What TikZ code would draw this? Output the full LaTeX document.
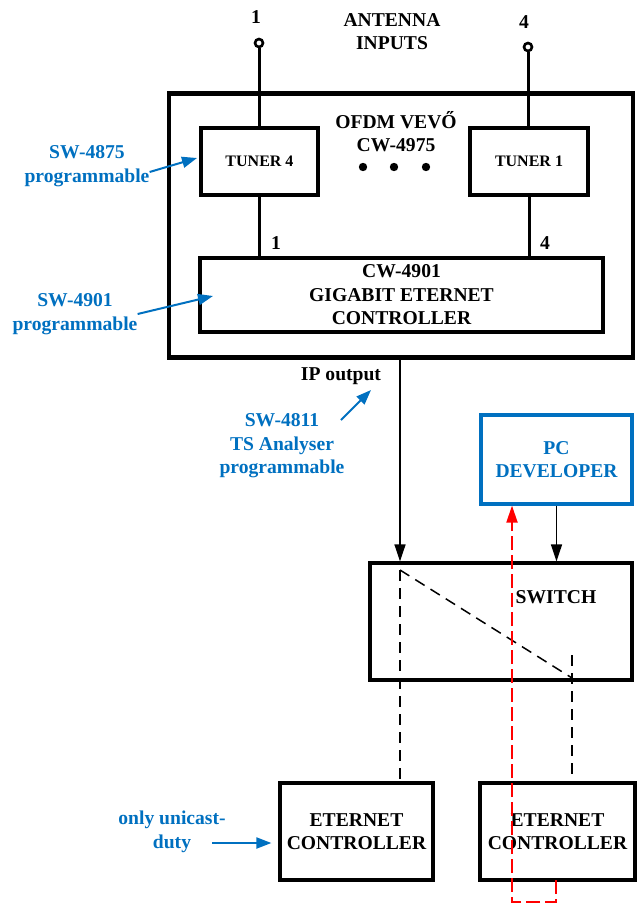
\documentclass[tikz,border=0pt]{standalone}
\usepackage{fontspec}
\setmainfont{Liberation Serif}
\usetikzlibrary{arrows.meta}

\definecolor{swblue}{RGB}{0,112,192}
\newcommand{\bigbf}{\bfseries\fontsize{19.6}{23.5}\selectfont}
\newcommand{\smallbf}{\bfseries\fontsize{16}{19}\selectfont}

\begin{document}
\begin{tikzpicture}[x=1pt, y=-1pt,
    box/.style={draw, line width=3.2pt, inner sep=0pt, align=center, font=\bigbf},
    lbl/.style={align=center, font=\bigbf, inner sep=0pt},
    note/.style={lbl, text=swblue},
    notearrow/.style={-{Triangle[length=15pt,width=11pt]}, line width=2pt, draw=swblue},
    sigarrow/.style={-{Triangle[length=17pt,width=11pt]}, line width=1.5pt},
    dashline/.style={line width=1.5pt, dash pattern=on 11pt off 7pt},
    redline/.style={-{Triangle[length=17pt,width=11pt]}, line width=2pt, draw=red, dash pattern=on 14pt off 5pt}]

    \useasboundingbox (0,0) rectangle (639,905);

    % Receiver
    \node (rx) [box, line width=4.5pt, minimum width=464, minimum height=264] at (401,225.5) {};
    \node (rxlbl) [lbl] at (396,131.5) {OFDM VEVŐ\\CW-4975};
    \foreach \xpos in {363, 394, 426}
    {
      \fill (\xpos,167) circle (4.2pt);
    };
    \node (tuner4) [box, font=\smallbf, minimum width=117, minimum height=67] at (259.5,161.5) {TUNER 4};
    \node (tuner1) [box, font=\smallbf, minimum width=118, minimum height=67] at (529,161.5) {TUNER 1};
    \node (ctrl) [box, minimum width=403, minimum height=74] at (401.5,295) {CW-4901\\GIGABIT ETERNET\\CONTROLLER};
    \draw [line width=3pt] (tuner4.south) -- (tuner4.south |- ctrl.north);
    \draw [line width=3pt] (tuner1.south) -- (tuner1.south |- ctrl.north);
    \node (in1) [lbl] at (276,243) {1};
    \node (in4) [lbl] at (545,243) {4};

    % Antenna inputs
    \node (antlbl) [lbl] at (392,31.5) {ANTENNA\\INPUTS};
    \node (ant1) [circle, draw, line width=2.6pt, minimum size=8, inner sep=0pt] at (259,43) {};
    \node (ant4) [circle, draw, line width=2.6pt, minimum size=8, inner sep=0pt] at (528,47) {};
    \node (ant1lbl) [lbl] at (256,17) {1};
    \node (ant4lbl) [lbl] at (524,22) {4};
    \draw [line width=3pt] (ant1) -- (ant1 |- tuner4.north);
    \draw [line width=3pt] (ant4) -- (ant4 |- tuner1.north);

    % PC and switch
    \node (pc) [box, draw=swblue, text=swblue, minimum width=151, minimum height=89] at (556.5,459.5) {PC\\DEVELOPER};
    \node (switch) [box, minimum width=262, minimum height=117] at (501,621.5) {};
    \node (swlbl) [lbl] at (556,597) {SWITCH};

    % Ethernet controllers
    \node (eth1) [box, minimum width=153, minimum height=97] at (356.5,831.5) {ETERNET\\CONTROLLER};
    \node (eth2) [box, minimum width=155, minimum height=97] at (557.5,831.5) {ETERNET\\CONTROLLER};

    % IP output
    \coordinate (ipout) at (400,358);
    \node (iplbl) [lbl] at (341,376) {IP output};
    \draw [sigarrow] (ipout) -- (ipout |- switch.north);
    \draw [sigarrow] (pc.south) -- (pc.south |- switch.north);

    % Paths through the switch
    \coordinate (swin) at (400,570);
    \coordinate (swout) at (572,678);
    \coordinate (swtap) at (572,655);
    \draw [dashline] (swin) -- (swin |- eth1.north);
    \draw [dashline] (swin) -- (swout);
    \draw [dashline] (swtap) -- (swtap |- eth2.north);

    % Return path to the PC
    \coordinate (rd1) at (556,880);
    \coordinate (rd2) at (512,902);
    \draw [redline] (rd1) -- (rd1 |- rd2) -- (rd2) -- (rd2 |- pc.south);

    % Software notes
    \node (sw4875) [note] at (87,166) {SW-4875\\programmable};
    \coordinate (sw4875tip) at (197,158);
    \draw [notearrow] ([yshift=-6pt]sw4875.east) -- (sw4875tip);

    \node (sw4901) [note] at (75,314) {SW-4901\\programmable};
    \coordinate (sw4901tip) at (213,296);
    \draw [notearrow] (sw4901.east) -- (sw4901tip);

    \node (sw4811) [note] at (282,446) {SW-4811\\TS Analyser\\programmable};
    \coordinate (sw4811tail) at (341,420);
    \coordinate (sw4811tip) at (371,390);
    \draw [notearrow] (sw4811tail) -- (sw4811tip);

    \node (unicast) [note] at (172,832) {only unicast-\\duty};
    \coordinate (unicasttail) at (212,843);
    \draw [notearrow, shorten >=7pt] (unicasttail) -- (unicasttail -| eth1.west);

\end{tikzpicture}
\end{document}
